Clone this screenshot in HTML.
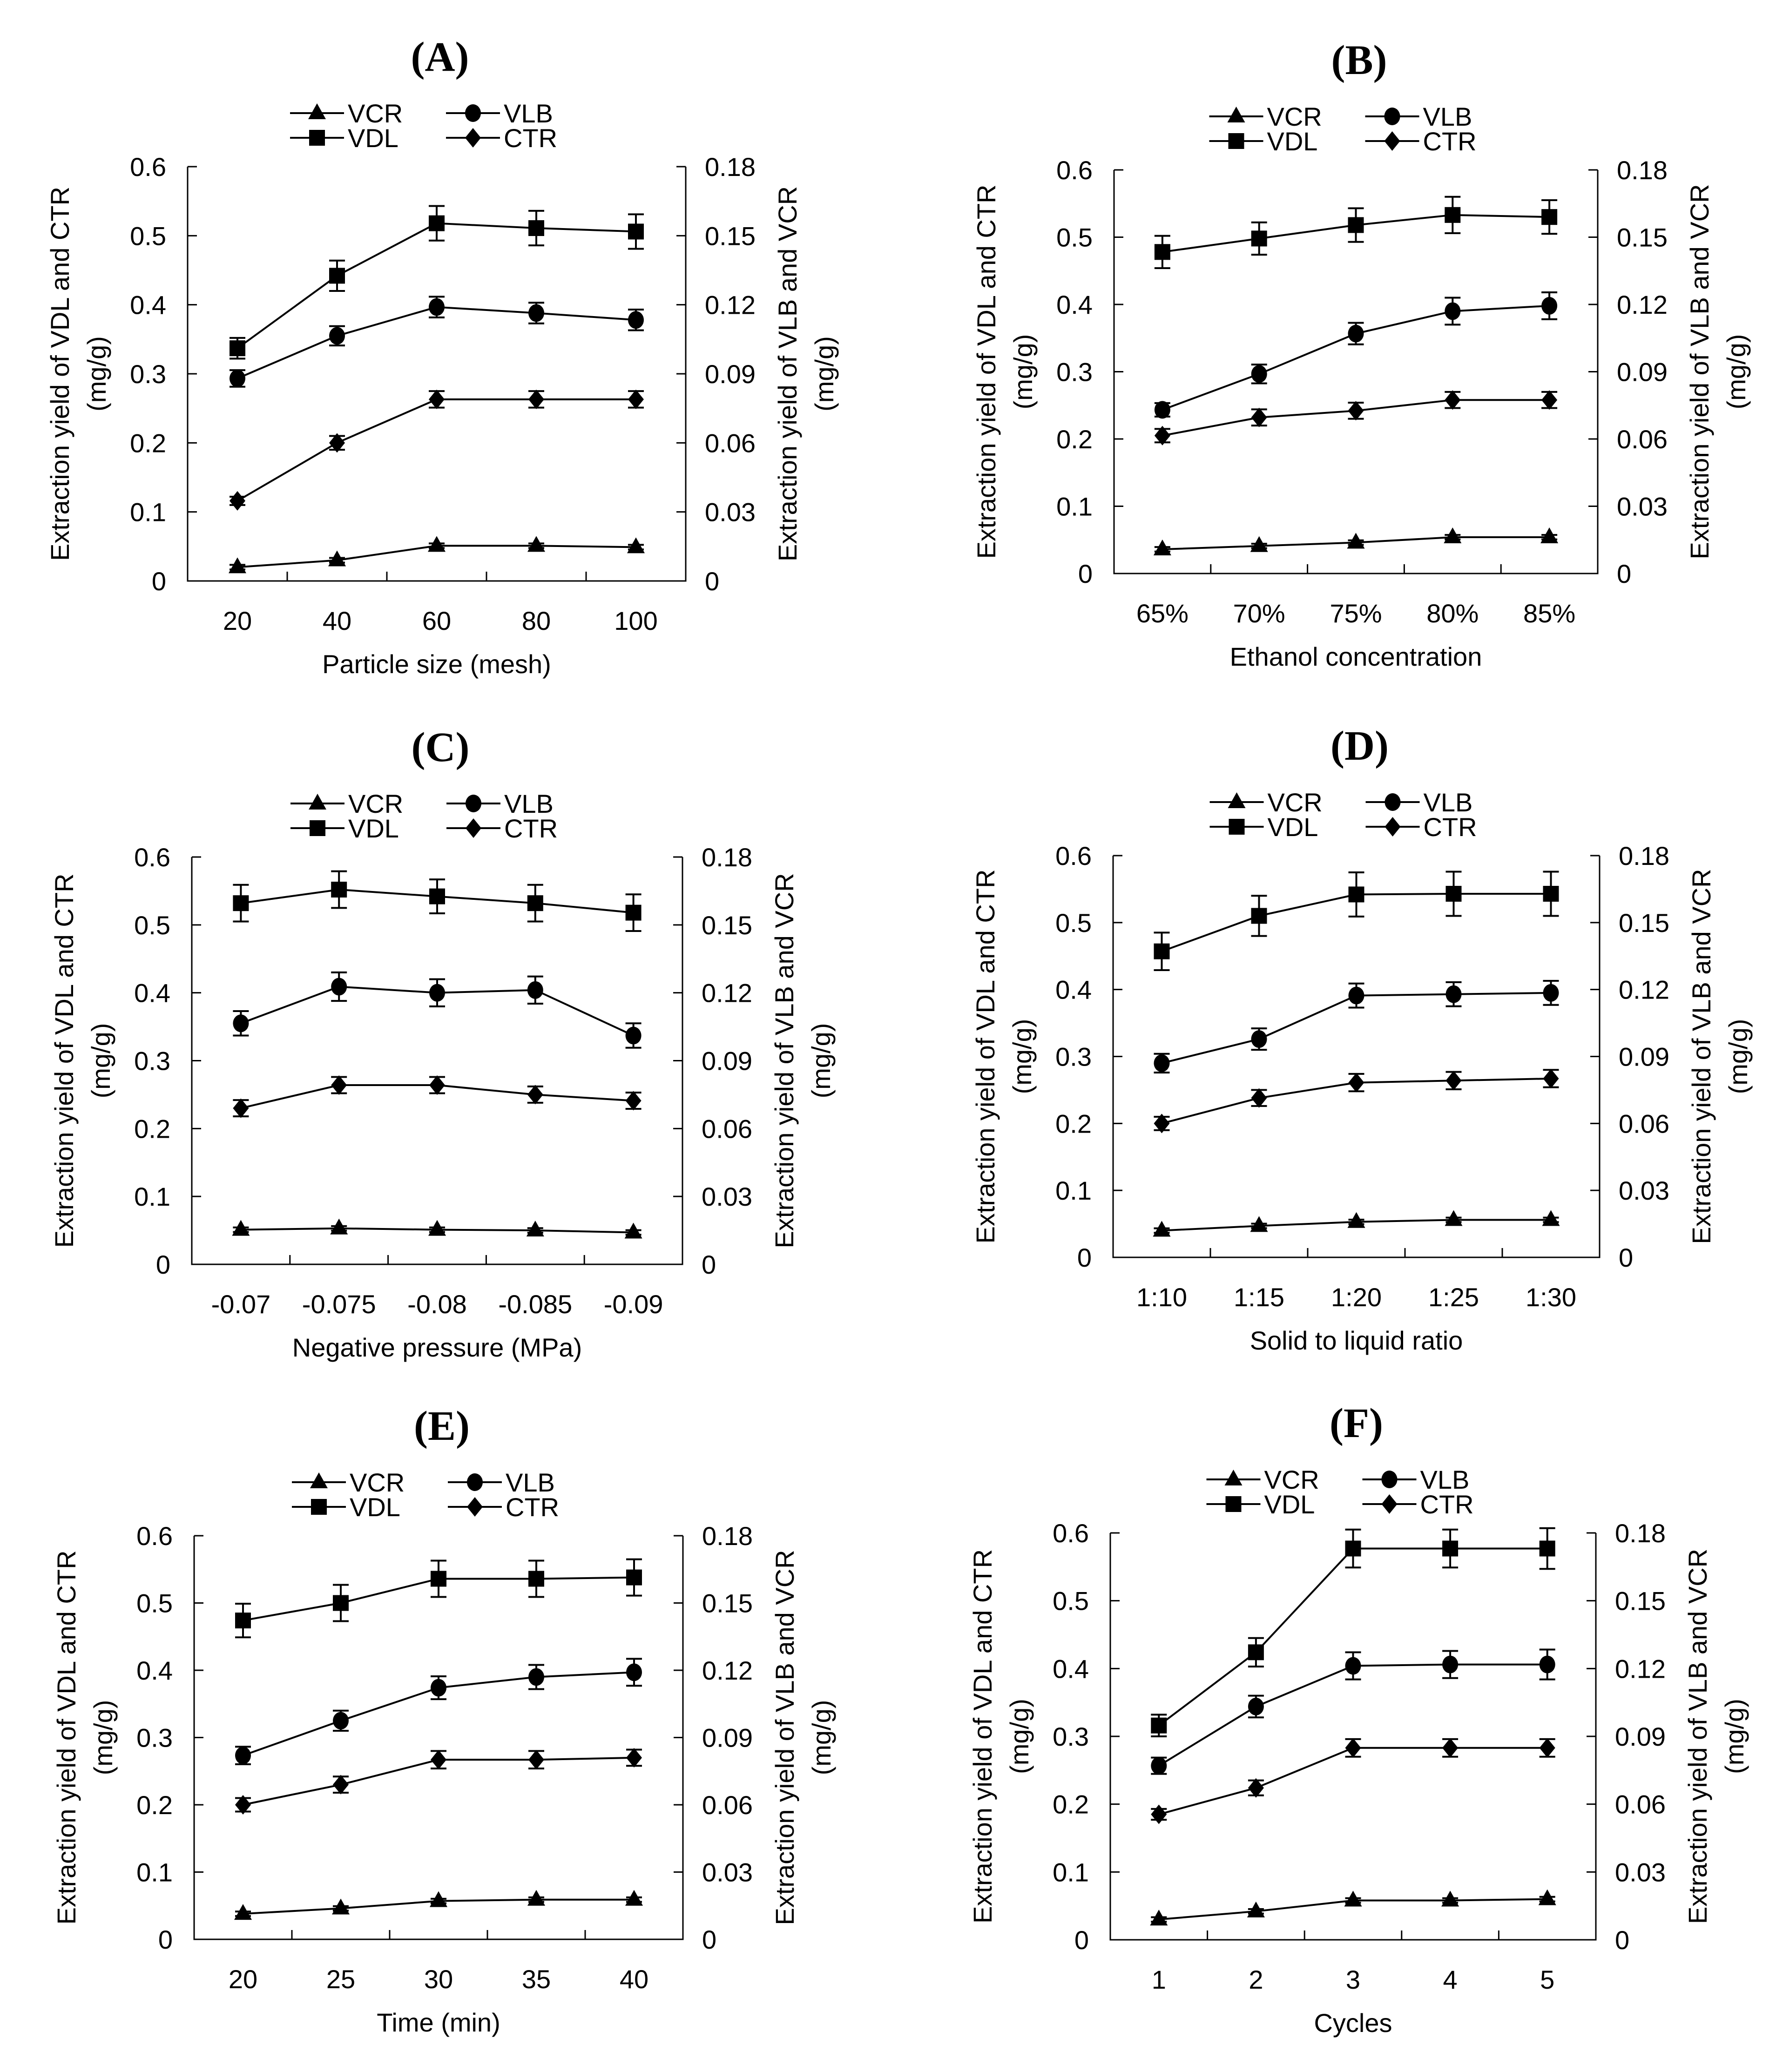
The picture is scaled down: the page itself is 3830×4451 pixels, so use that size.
<!DOCTYPE html>
<html><head><meta charset="utf-8"><style>
html,body{margin:0;padding:0;background:#fff;}
svg{display:block;}
text{font-family:"Liberation Sans",Arial,sans-serif;fill:#000;}
.ttl{font-family:"Liberation Serif","Times New Roman",serif;font-weight:bold;}
</style></head><body>
<svg id="fig" xmlns="http://www.w3.org/2000/svg" width="3830" height="4451" viewBox="0 0 3830 4451"></svg>
<script>
// ---- data (left axis: VDL, CTR in mg/g; right axis: VLB, VCR in mg/g) ----
const catsA = ["20","40","60","80","100"];
const vdlA = [0.337,0.442,0.518,0.511,0.506];
const vdlErrA = [0.015,0.022,0.025,0.025,0.025];
const ctrA = [0.116,0.200,0.263,0.263,0.263];
const ctrErrA = [0.006,0.010,0.012,0.012,0.012];
const vlbA = [0.088,0.1065,0.119,0.1164,0.1134];
const vlbErrA = [0.0036,0.0042,0.0045,0.0045,0.0045];
const vcrA = [0.006,0.009,0.0153,0.0153,0.0147];
const vcrErrA = [0.001,0.001,0.001,0.001,0.001];

const catsB = ["65%","70%","75%","80%","85%"];
const vdlB = [0.478,0.498,0.518,0.533,0.530];
const vdlErrB = [0.024,0.024,0.025,0.027,0.025];
const ctrB = [0.205,0.232,0.242,0.258,0.258];
const ctrErrB = [0.010,0.012,0.012,0.012,0.012];
const vlbB = [0.073,0.089,0.107,0.117,0.1194];
const vlbErrB = [0.003,0.0042,0.0048,0.006,0.006];
const vcrB = [0.0108,0.0123,0.0138,0.0162,0.0162];
const vcrErrB = [0.001,0.001,0.001,0.001,0.001];

const catsC = ["-0.07","-0.075","-0.08","-0.085","-0.09"];
const vdlC = [0.532,0.552,0.542,0.532,0.518];
const vdlErrC = [0.027,0.027,0.025,0.027,0.027];
const ctrC = [0.230,0.264,0.264,0.250,0.241];
const ctrErrC = [0.012,0.012,0.012,0.012,0.012];
const vlbC = [0.1065,0.1227,0.120,0.1212,0.1011];
const vlbErrC = [0.0054,0.0063,0.006,0.006,0.0054];
const vcrC = [0.0153,0.0159,0.0153,0.015,0.0141];
const vcrErrC = [0.001,0.001,0.001,0.001,0.001];

const catsD = ["1:10","1:15","1:20","1:25","1:30"];
const vdlD = [0.457,0.510,0.542,0.543,0.543];
const vdlErrD = [0.028,0.030,0.033,0.033,0.033];
const ctrD = [0.200,0.238,0.261,0.264,0.267];
const ctrErrD = [0.010,0.012,0.013,0.013,0.013];
const vlbD = [0.087,0.0978,0.1173,0.1179,0.1185];
const vlbErrD = [0.0042,0.0048,0.0054,0.0054,0.0054];
const vcrD = [0.012,0.0141,0.0159,0.0168,0.0168];
const vcrErrD = [0.001,0.001,0.001,0.001,0.001];

const catsE = ["20","25","30","35","40"];
const vdlE = [0.474,0.500,0.536,0.536,0.538];
const vdlErrE = [0.025,0.027,0.027,0.027,0.027];
const ctrE = [0.200,0.230,0.267,0.267,0.270];
const ctrErrE = [0.010,0.012,0.013,0.013,0.012];
const vlbE = [0.082,0.0975,0.1122,0.117,0.1191];
const vlbErrE = [0.0039,0.0045,0.0051,0.0054,0.006];
const vcrE = [0.0114,0.0138,0.0171,0.0177,0.0177];
const vcrErrE = [0.001,0.001,0.001,0.001,0.001];

const catsF = ["1","2","3","4","5"];
const vdlF = [0.316,0.424,0.577,0.577,0.577];
const vdlErrF = [0.016,0.021,0.028,0.028,0.030];
const ctrF = [0.185,0.224,0.283,0.283,0.283];
const ctrErrF = [0.008,0.011,0.013,0.013,0.013];
const vlbF = [0.077,0.1032,0.1212,0.1218,0.1218];
const vlbErrF = [0.0036,0.0048,0.006,0.006,0.0066];
const vcrF = [0.009,0.0126,0.0174,0.0174,0.018];
const vcrErrF = [0.001,0.001,0.001,0.001,0.001];

const leftTicks = ["0","0.1","0.2","0.3","0.4","0.5","0.6"];
const rightTicks = ["0","0.03","0.06","0.09","0.12","0.15","0.18"];

const panels = [
 {id:"a",label:"(A)",L:403,R:1473,T:358,B:1248,cats:catsA,xt:"Particle size (mesh)",vdl:vdlA,vdlE:vdlErrA,ctr:ctrA,ctrE:ctrErrA,vlb:vlbA,vlbE:vlbErrA,vcr:vcrA,vcrE:vcrErrA},
 {id:"b",label:"(B)",L:2393,R:3432,T:365,B:1232,cats:catsB,xt:"Ethanol concentration",vdl:vdlB,vdlE:vdlErrB,ctr:ctrB,ctrE:ctrErrB,vlb:vlbB,vlbE:vlbErrB,vcr:vcrB,vcrE:vcrErrB},
 {id:"c",label:"(C)",L:412,R:1466,T:1841,B:2716,cats:catsC,xt:"Negative pressure (MPa)",vdl:vdlC,vdlE:vdlErrC,ctr:ctrC,ctrE:ctrErrC,vlb:vlbC,vlbE:vlbErrC,vcr:vcrC,vcrE:vcrErrC},
 {id:"d",label:"(D)",L:2391,R:3436,T:1838,B:2701,cats:catsD,xt:"Solid to liquid ratio",vdl:vdlD,vdlE:vdlErrD,ctr:ctrD,ctrE:ctrErrD,vlb:vlbD,vlbE:vlbErrD,vcr:vcrD,vcrE:vcrErrD},
 {id:"e",label:"(E)",L:417,R:1467,T:3299,B:4166,cats:catsE,xt:"Time (min)",vdl:vdlE,vdlE:vdlErrE,ctr:ctrE,ctrE:ctrErrE,vlb:vlbE,vlbE:vlbErrE,vcr:vcrE,vcrE:vcrErrE},
 {id:"f",label:"(F)",L:2385,R:3428,T:3293,B:4167,cats:catsF,xt:"Cycles",vdl:vdlF,vdlE:vdlErrF,ctr:ctrF,ctrE:ctrErrF,vlb:vlbF,vlbE:vlbErrF,vcr:vcrF,vcrE:vcrErrF}
];

const NS="http://www.w3.org/2000/svg";
const svg=document.getElementById("fig");
function mk(tag,attrs,parent){const e=document.createElementNS(NS,tag);for(const k in attrs)e.setAttribute(k,attrs[k]);(parent||svg).appendChild(e);return e;}

function marker(g,shape,x,y){
  let e;
  if(shape==="tri"){e=mk("polygon",{points:`${x},${y-21} ${x-19},${y+13} ${x+19},${y+13}`,fill:"#000"},g);}
  else if(shape==="sq"){e=mk("rect",{x:x-17,y:y-17,width:34,height:34,fill:"#000"},g);}
  else if(shape==="circ"){e=mk("ellipse",{cx:x,cy:y,rx:17,ry:19,fill:"#000"},g);}
  else {e=mk("polygon",{points:`${x},${y-21} ${x+17},${y} ${x},${y+21} ${x-17},${y}`,fill:"#000"},g);}
  return e;
}

panels.forEach(p=>{
  const g=mk("g",{});
  
  
  const W=p.R-p.L, H=p.B-p.T, n=p.cats.length, bw=W/n;
  const xS=i=>p.L+bw*(i+0.5);
  const yL=v=>p.B-v/0.6*H;
  const yR=v=>p.B-v/0.18*H;
  const cx=(p.L+p.R)/2, cy=(p.T+p.B)/2;

  const t=mk("text",{x:cx+7,y:p.T-206,"text-anchor":"middle","font-size":90,class:"ttl"},g);
  t.textContent=p.label;
  
  

  const leg=[["tri","VCR",-257,p.T-115],["circ","VLB",78,p.T-115],["sq","VDL",-257,p.T-62],["diam","CTR",78,p.T-62]];
  leg.forEach(l=>{
    const lg=mk("g",{},g);
    
    
    mk("line",{x1:cx+l[2]-58,x2:cx+l[2]+58,y1:l[3],y2:l[3],stroke:"#000","stroke-width":4},lg);
    marker(lg,l[0],cx+l[2],l[3]);
    const tx=mk("text",{x:cx+l[2]+66,y:l[3]+20,"font-size":56},lg);
    tx.textContent=l[1];
  });

  const ax=mk("path",{d:`M${p.L},${p.T}V${p.B}H${p.R}V${p.T}`,fill:"none",stroke:"#000","stroke-width":3},g);
  
  
  leftTicks.forEach((lab,i)=>{
    const y=p.B-i*H/6;
    mk("line",{x1:p.L,x2:p.L+20,y1:y,y2:y,stroke:"#000","stroke-width":3},g);
    mk("line",{x1:p.R,x2:p.R-20,y1:y,y2:y,stroke:"#000","stroke-width":3},g);
    const a=mk("text",{x:p.L-46,y:y+20,"text-anchor":"end","font-size":56},g);a.textContent=lab;
    
    
    const b=mk("text",{x:p.R+41,y:y+20,"font-size":56},g);b.textContent=rightTicks[i];
    
    
  });
  for(let i=1;i<n;i++){const x=p.L+bw*i;mk("line",{x1:x,x2:x,y1:p.B,y2:p.B-20,stroke:"#000","stroke-width":3},g);}
  p.cats.forEach((c,i)=>{
    const a=mk("text",{x:xS(i),y:p.B+105,"text-anchor":"middle","font-size":56},g);a.textContent=c;
    
    
  });
  const xt=mk("text",{x:cx,y:p.B+198,"text-anchor":"middle","font-size":56},g);xt.textContent=p.xt;
  
  
  [["Extraction yield of VDL and CTR",p.L-275],["(mg/g)",p.L-196]].forEach(s=>{
    const a=mk("text",{x:s[1],y:cy,"text-anchor":"middle","font-size":56,transform:`rotate(-90 ${s[1]} ${cy}) translate(0 20)`},g);a.textContent=s[0];
    
    
  });
  [["Extraction yield of VLB and VCR",p.R+218],["(mg/g)",p.R+297]].forEach(s=>{
    const a=mk("text",{x:s[1],y:cy,"text-anchor":"middle","font-size":56,transform:`rotate(-90 ${s[1]} ${cy}) translate(0 20)`},g);a.textContent=s[0];
    
    
  });

  const series=[["vdl",p.vdl,p.vdlE,yL,"sq"],["vlb",p.vlb,p.vlbE,yR,"circ"],["ctr",p.ctr,p.ctrE,yL,"diam"],["vcr",p.vcr,p.vcrE,yR,"tri"]];
  series.forEach(s=>{
    const sg=mk("g",{},g);
    
    
    const vals=s[1],errs=s[2],ys=s[3];
    mk("polyline",{points:vals.map((v,i)=>xS(i)+","+ys(v)).join(" "),fill:"none",stroke:"#000","stroke-width":4},sg);
    vals.forEach((v,i)=>{
      const x=xS(i),y1=ys(v+errs[i]),y2=ys(v-errs[i]);
      if(y2-y1>6){
        mk("line",{x1:x,x2:x,y1:y1,y2:y2,stroke:"#000","stroke-width":4},sg);
        mk("line",{x1:x-17,x2:x+17,y1:y1,y2:y1,stroke:"#000","stroke-width":4},sg);
        mk("line",{x1:x-17,x2:x+17,y1:y2,y2:y2,stroke:"#000","stroke-width":4},sg);
      }
      const m=marker(sg,s[4],x,ys(v));
      
      
    });
  });
});
</script>
</body></html>
